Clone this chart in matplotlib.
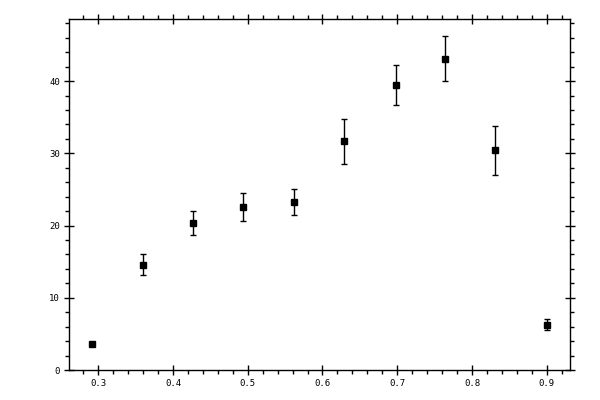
import numpy as np
from matplotlib import pyplot as plt
from matplotlib.ticker import MultipleLocator

# values
x_vals = [0.292, 0.360, 0.427, 0.494, 0.562, 0.629, 0.698, 0.764, 0.831, 0.900]
y_vals = [3.56, 14.6, 20.3, 22.6, 23.2, 31.65, 39.5, 43.1, 30.4, 6.3]
y_err = [0.3, 1.45, 1.65, 1.9, 1.8, 3.15, 2.75, 3.15, 3.4, 0.7]
x_ticks = [0.3, 0.4, 0.5, 0.6, 0.7, 0.8, 0.9]
y_ticks = [0, 10, 20, 30, 40]

plt.rcParams['font.family'] = 'DejaVu Sans Mono'

fig = plt.figure(figsize=(6, 4), dpi=100)
ax = fig.add_axes([0.115, 0.075, 0.835, 0.8775])

ax.errorbar(x_vals, y_vals, yerr=y_err, fmt='s', color='black',
            markersize=5, elinewidth=1, capsize=2.5, capthick=1)

ax.set_xlim(0.2608, 0.9312)
ax.set_ylim(0, 48.6)
ax.set_xticks(x_ticks)
ax.set_xticklabels([f'{t:.1f}' for t in x_ticks])
ax.set_yticks(y_ticks)
ax.xaxis.set_minor_locator(MultipleLocator(0.02))
ax.yaxis.set_minor_locator(MultipleLocator(2))

for s in ax.spines.values():
    s.set_linewidth(1)

ax.tick_params(which='major', direction='inout', length=7, width=1,
               top=True, right=True, labelsize=6.5, pad=3)
ax.tick_params(which='minor', direction='out', length=3, width=1,
               top=True, right=True)

fig.savefig('out.png', dpi=100)
